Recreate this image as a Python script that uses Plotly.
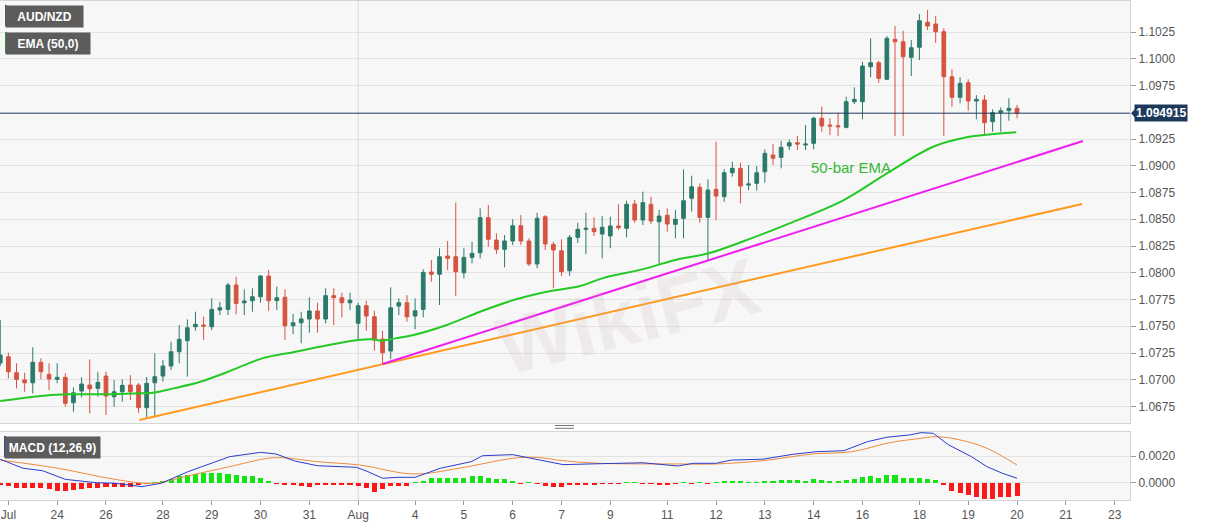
import plotly.graph_objects as go

# ---------------- data ----------------
bar_index = list(range(126))
open_ = [1.07157, 1.07215, 1.07066, 1.06998, 1.06972, 1.07163, 1.07051, 1.07004, 1.07023, 1.06786,
         1.06895, 1.06951, 1.06920, 1.07035, 1.06842, 1.06888, 1.06951, 1.06951, 1.06739, 1.06972,
         1.07035, 1.07129, 1.07262, 1.07365, 1.07496, 1.07512, 1.07496, 1.07652, 1.07658, 1.07886,
         1.07720, 1.07739, 1.07776, 1.07970, 1.07739, 1.07771, 1.07505, 1.07533, 1.07568, 1.07643,
         1.07568, 1.07786, 1.07767, 1.07720, 1.07528, 1.07692, 1.07589, 1.07381, 1.07269, 1.07689,
         1.07720, 1.07596, 1.07658, 1.08007, 1.07986, 1.08157, 1.08150, 1.08000, 1.08144, 1.08187,
         1.08515, 1.08306, 1.08219, 1.08297, 1.08440, 1.08297, 1.08082, 1.08524, 1.08266, 1.08206,
         1.08019, 1.08331, 1.08406, 1.08416, 1.08362, 1.08344, 1.08437, 1.08416, 1.08643, 1.08493,
         1.08640, 1.08477, 1.08537, 1.08453, 1.08509, 1.08696, 1.08799, 1.08518, 1.08780, 1.08711,
         1.08935, 1.08976, 1.08820, 1.08836, 1.08944, 1.09101, 1.09079, 1.09185, 1.09215, 1.09194,
         1.09210, 1.09444, 1.09381, 1.09374, 1.09359, 1.09599, 1.09599, 1.09926, 1.09963, 1.09808,
         1.10182, 1.10159, 1.10014, 1.10107, 1.10341, 1.10325, 1.10253, 1.09832, 1.09640, 1.09776,
         1.09605, 1.09615, 1.09412, 1.09496, 1.09515, 1.09537]
high = [1.07558, 1.07253, 1.07154, 1.07066, 1.07303, 1.07200, 1.07154, 1.07154, 1.07060, 1.06929,
        1.07023, 1.07191, 1.07075, 1.07075, 1.06998, 1.07004, 1.07044, 1.06970, 1.07026, 1.07247,
        1.07185, 1.07356, 1.07512, 1.07565, 1.07636, 1.07589, 1.07761, 1.07729, 1.07907, 1.07963,
        1.07845, 1.07855, 1.07979, 1.08026, 1.07870, 1.07845, 1.07615, 1.07636, 1.07771, 1.07720,
        1.07855, 1.07855, 1.07814, 1.07814, 1.07720, 1.07739, 1.07645, 1.07458, 1.07864, 1.07761,
        1.07792, 1.07761, 1.08032, 1.08119, 1.08229, 1.08297, 1.08655, 1.08229, 1.08290, 1.08602,
        1.08633, 1.08369, 1.08353, 1.08500, 1.08540, 1.08322, 1.08561, 1.08540, 1.08290, 1.08313,
        1.08353, 1.08468, 1.08561, 1.08518, 1.08530, 1.08524, 1.08640, 1.08673, 1.08680, 1.08758,
        1.08711, 1.08587, 1.08602, 1.08587, 1.08967, 1.08907, 1.08836, 1.08873, 1.09225, 1.08967,
        1.09038, 1.09029, 1.09007, 1.08998, 1.09154, 1.09203, 1.09234, 1.09247, 1.09278, 1.09381,
        1.09458, 1.09552, 1.09444, 1.09496, 1.09645, 1.09733, 1.09973, 1.10191, 1.09982, 1.10213,
        1.10306, 1.10262, 1.10175, 1.10418, 1.10456, 1.10400, 1.10285, 1.09902, 1.09827, 1.09808,
        1.09661, 1.09661, 1.09528, 1.09546, 1.09630, 1.09568]
low = [1.07129, 1.07014, 1.06920, 1.06888, 1.06873, 1.07004, 1.06904, 1.06967, 1.06748, 1.06701,
       1.06836, 1.06686, 1.06842, 1.06671, 1.06748, 1.06795, 1.06811, 1.06692, 1.06650, 1.06655,
       1.06982, 1.07091, 1.07154, 1.07029, 1.07458, 1.07372, 1.07465, 1.07605, 1.07605, 1.07612,
       1.07605, 1.07636, 1.07720, 1.07645, 1.07652, 1.07372, 1.07428, 1.07341, 1.07440, 1.07440,
       1.07528, 1.07512, 1.07584, 1.07652, 1.07372, 1.07458, 1.07272, 1.07147, 1.07191, 1.07605,
       1.07543, 1.07472, 1.07584, 1.07916, 1.07699, 1.08026, 1.07783, 1.07948, 1.08088, 1.08135,
       1.08243, 1.08175, 1.08051, 1.08259, 1.08259, 1.08063, 1.08042, 1.08213, 1.07855, 1.07970,
       1.07970, 1.08278, 1.08175, 1.08344, 1.08135, 1.08229, 1.08400, 1.08331, 1.08468, 1.08446,
       1.08456, 1.08082, 1.08384, 1.08322, 1.08322, 1.08571, 1.08468, 1.08119, 1.08493, 1.08664,
       1.08898, 1.08649, 1.08773, 1.08767, 1.08842, 1.09007, 1.08976, 1.09147, 1.09147, 1.09147,
       1.09154, 1.09318, 1.09287, 1.09278, 1.09350, 1.09577, 1.09434, 1.09827, 1.09776, 1.09801,
       1.09278, 1.09278, 1.09839, 1.09988, 1.10269, 1.10150, 1.09278, 1.09552, 1.09584, 1.09515,
       1.09434, 1.09287, 1.09318, 1.09318, 1.09421, 1.09444]
close = [1.07231, 1.07075, 1.07004, 1.06972, 1.07163, 1.07075, 1.07007, 1.07023, 1.06780, 1.06879,
         1.06960, 1.06916, 1.06976, 1.06848, 1.06888, 1.06948, 1.06888, 1.06739, 1.06967, 1.07029,
         1.07129, 1.07262, 1.07378, 1.07486, 1.07518, 1.07502, 1.07658, 1.07673, 1.07886, 1.07714,
         1.07736, 1.07776, 1.07970, 1.07739, 1.07767, 1.07505, 1.07533, 1.07568, 1.07643, 1.07568,
         1.07786, 1.07767, 1.07720, 1.07743, 1.07692, 1.07596, 1.07372, 1.07253, 1.07673, 1.07720,
         1.07589, 1.07645, 1.08004, 1.07986, 1.08150, 1.08135, 1.08010, 1.08144, 1.08182, 1.08515,
         1.08313, 1.08219, 1.08297, 1.08440, 1.08297, 1.08082, 1.08509, 1.08269, 1.08213, 1.08010,
         1.08331, 1.08406, 1.08416, 1.08384, 1.08425, 1.08437, 1.08421, 1.08640, 1.08493, 1.08655,
         1.08484, 1.08530, 1.08456, 1.08500, 1.08673, 1.08804, 1.08518, 1.08773, 1.08717, 1.08935,
         1.08976, 1.08811, 1.08830, 1.08935, 1.09116, 1.09070, 1.09173, 1.09215, 1.09203, 1.09203,
         1.09444, 1.09372, 1.09372, 1.09365, 1.09599, 1.09621, 1.09932, 1.09963, 1.09817, 1.10191,
         1.10159, 1.10019, 1.10103, 1.10356, 1.10306, 1.10253, 1.09832, 1.09640, 1.09771, 1.09605,
         1.09621, 1.09402, 1.09496, 1.09515, 1.09537, 1.094915]

ema_x = [0, 4.1, 8.2, 12.3, 16.4, 18.8, 21.3, 24.6, 28.0, 32.2, 36.3, 40.4, 44.0, 45.7, 46.9,
         48.6, 50.8, 54.9, 59.0, 63.1, 67.2, 71.3, 74.0, 78.9, 83.0, 87.1, 91.2, 96.5, 103.7,
         109.0, 114.7, 118.8, 120.9, 124.9]
ema_y = [1.06801, 1.06842, 1.06864, 1.06864, 1.06873, 1.06879, 1.06920, 1.06982, 1.07075, 1.07200,
         1.07262, 1.07325, 1.07372, 1.07378, 1.07365, 1.07387, 1.07418, 1.07512, 1.07636, 1.07745,
         1.07823, 1.07876, 1.07948, 1.08032, 1.08119, 1.08182, 1.08290, 1.08446, 1.08680, 1.08929,
         1.09178, 1.09266, 1.09287, 1.09313]

orange_x = [17.1, 133.0]
orange_y = [1.06625, 1.08643]
magenta_x = [47.0, 133.1]
magenta_y = [1.07147, 1.09231]

macd_hist = [-0.000148, -0.000222, -0.000395, -0.000395, -0.000395, -0.000395, -0.000469, -0.000593,
             -0.000568, -0.000519, -0.000469, -0.000395, -0.000395, -0.000321, -0.000272, -0.000272,
             -0.000272, -0.000148, -0.000074, 0.000060, 0.000148, 0.000272, 0.000519, 0.000593,
             0.000667, 0.000716, 0.000716, 0.000766, 0.000667, 0.000593, 0.000519, 0.000519,
             0.000346, 0.000148, -0.000060, -0.000148, -0.000148, -0.000222, -0.000272, -0.000148,
             -0.000148, -0.000148, -0.000148, -0.000148, -0.000222, -0.000395, -0.000642, -0.000469,
             -0.000222, -0.000222, -0.000222, 0.000060, 0.000148, 0.000346, 0.000395, 0.000346,
             0.000346, 0.000346, 0.000519, 0.000519, 0.000346, 0.000272, 0.000272, 0.000173,
             -0.000060, 0.000060, -0.000060, -0.000198, -0.000321, -0.000272, -0.000148, -0.000148,
             -0.000148, -0.000124, -0.000099, -0.000074, -0.000060, 0.000060, 0.000060, -0.000060,
             -0.000060, -0.000148, -0.000173, -0.000074, 0.000060, -0.000060, 0.000060, -0.000060,
             0.000060, 0.000173, 0.000173, 0.000124, 0.000099, 0.000099, 0.000173, 0.000173,
             0.000222, 0.000222, 0.000222, 0.000173, 0.000272, 0.000222, 0.000173, 0.000173,
             0.000222, 0.000272, 0.000469, 0.000519, 0.000395, 0.000568, 0.000568, 0.000395,
             0.000346, 0.000346, 0.000321, 0.000222, -0.000148, -0.000568, -0.000716, -0.000889,
             -0.001013, -0.001186, -0.001186, -0.001062, -0.001013, -0.000963]

macd_x = [0, 2.8, 5.2, 8.0, 11.8, 14.1, 17.4, 19.8, 23.1, 25.9, 28.2, 32.0, 33.9, 36.2, 39.0, 43.8,
          45.2, 47.0, 48.9, 51.0, 54.1, 57.9, 59.3, 63.0, 65.4, 69.2, 73.8, 76.6, 79.0, 83.3, 85.2,
          88.0, 89.9, 93.7, 97.5, 100.4, 103.7, 106.6, 109.0, 111.8, 113.2, 114.7, 116.6, 119.4,
          121.3, 123.2, 125.0]
macd_y = [0.00176, 0.00109, 0.00091, 0.00027, 0.00002, -0.00002, -0.00027, -0.00002, 0.00084,
          0.00146, 0.00195, 0.00227, 0.00215, 0.00163, 0.00128, 0.00116, 0.00084, 0.00035, 0.00042,
          0.00042, 0.00109, 0.00158, 0.00202, 0.00210, 0.00183, 0.00136, 0.00143, 0.00146, 0.00150,
          0.00126, 0.00146, 0.00146, 0.00170, 0.00176, 0.00213, 0.00232, 0.00239, 0.00306, 0.00339,
          0.00356, 0.00373, 0.00368, 0.00282, 0.00195, 0.00121, 0.00072, 0.00035]
signal_x = [0, 7.1, 14.1, 18.8, 23.5, 28.2, 32.9, 34.8, 39.0, 44.2, 50.8, 56.4, 63.0, 65.9, 69.2,
            73.8, 83.3, 88.0, 93.7, 99.9, 104.7, 109.4, 112.8, 115.1, 118.0, 121.3, 125.0]
signal_y = [0.00170, 0.00109, 0.00027, -0.00002, 0.00059, 0.00121, 0.00183, 0.00187, 0.00158,
            0.00133, 0.00067, 0.00109, 0.00183, 0.00190, 0.00165, 0.00146, 0.00141, 0.00141,
            0.00165, 0.00215, 0.00232, 0.00299, 0.00328, 0.00343, 0.00319, 0.00257, 0.00133]

price_ticks = [1.0675, 1.0700, 1.0725, 1.0750, 1.0775, 1.0800, 1.0825, 1.0850, 1.0875, 1.0900,
               1.0925, 1.0975, 1.1000, 1.1025]
macd_ticks = [0.0, 0.0020]
date_tick_pos = [1, 7, 13, 20, 26, 32, 38, 44, 51, 57, 63, 69, 75, 82, 88, 94, 100, 106, 113,
                 119, 125, 131, 137]
date_tick_text = ["Jul", "24", "26", "28", "29", "30", "31", "Aug", "4", "5", "6", "7", "9", "11",
                  "12", "13", "14", "16", "18", "19", "20", "21", "23"]
month_break = 44
last_price = 1.094915

# ---------------- styling ----------------
W, H = 1207, 526
ML, MR, MT, MB = 0, 77, 1, 26
PW, PH = W - ML - MR, H - MT - MB
UP, DOWN = "#2b7a69", "#d5533f"
FONT = "Arial, Liberation Sans, sans-serif"


def px_x(px):
    return px / PW


def px_y(py):
    return (H - MB - py) / PH


main_bottom = px_y(422.7)
macd_top = px_y(431.7)

fig = go.Figure()
fig.add_trace(go.Candlestick(
    x=bar_index, open=open_, high=high, low=low, close=close,
    increasing=dict(line=dict(color=UP, width=1), fillcolor=UP),
    decreasing=dict(line=dict(color=DOWN, width=1), fillcolor=DOWN),
    whiskerwidth=0, hoverinfo="skip", showlegend=False, xaxis="x", yaxis="y"))
fig.add_trace(go.Scatter(x=orange_x, y=orange_y, mode="lines",
                         line=dict(color="#ff9a1f", width=2), hoverinfo="skip", showlegend=False))
fig.add_trace(go.Scatter(x=magenta_x, y=magenta_y, mode="lines",
                         line=dict(color="#f01cf0", width=2), hoverinfo="skip", showlegend=False))
fig.add_trace(go.Scatter(x=ema_x, y=ema_y, mode="lines", line_shape="spline",
                         line=dict(color="#25c925", width=2), hoverinfo="skip", showlegend=False))

fig.add_trace(go.Bar(x=bar_index, y=macd_hist, width=0.62,
                     marker=dict(color=["#12e612" if v >= 0 else "#ff1616" for v in macd_hist],
                                 line=dict(width=0)),
                     hoverinfo="skip", showlegend=False, xaxis="x2", yaxis="y2"))
fig.add_trace(go.Scatter(x=signal_x, y=signal_y, mode="lines", line_shape="spline",
                         line=dict(color="#f08a3c", width=1), hoverinfo="skip",
                         showlegend=False, xaxis="x2", yaxis="y2"))
fig.add_trace(go.Scatter(x=macd_x, y=macd_y, mode="lines",
                         line=dict(color="#2a3ccc", width=1), hoverinfo="skip",
                         showlegend=False, xaxis="x2", yaxis="y2"))

xr = [-0.03, PW / 8.136]
border = "#d4d4d4"
grid = "#e3e3e3"
tickfont = dict(family=FONT, size=12, color="#555")

fig.update_layout(
    width=W, height=H, margin=dict(l=ML, r=MR, t=MT, b=MB),
    paper_bgcolor="white", plot_bgcolor="#f7f7f7",
    boxgap=0.35, bargap=0, showlegend=False,
    font=dict(family=FONT),
    xaxis=dict(domain=[0, 1], range=xr, anchor="y", showticklabels=False, showgrid=False,
               zeroline=False, showline=True, mirror=True, linecolor=border,
               rangeslider=dict(visible=False), fixedrange=True),
    yaxis=dict(domain=[main_bottom, 1], range=[1.06599, 1.10540], side="right", anchor="x",
               tickvals=price_ticks, tickformat=".4f", ticks="outside", ticklen=5,
               tickcolor="#9a9a9a", gridcolor=grid, showline=True, mirror=True,
               linecolor=border, zeroline=False, tickfont=tickfont, fixedrange=True),
    xaxis2=dict(domain=[0, 1], range=xr, anchor="y2", tickvals=date_tick_pos,
                ticktext=date_tick_text, ticks="outside", ticklen=4, tickcolor="#9a9a9a",
                showgrid=False, zeroline=False, showline=True, mirror=True, linecolor=border,
                tickfont=tickfont, fixedrange=True),
    yaxis2=dict(domain=[0, macd_top], range=[-0.00126, 0.0038], side="right", anchor="x2",
                tickvals=macd_ticks, tickformat=".4f", ticks="outside", ticklen=5,
                tickcolor="#9a9a9a", gridcolor=grid, showline=True, mirror=True,
                linecolor=border, zeroline=False, tickfont=tickfont, fixedrange=True),
)

shapes = []
# month separators
shapes.append(dict(type="line", xref="x", yref="y domain", x0=month_break, x1=month_break,
                   y0=0, y1=1, line=dict(color="#d9d9d9", width=1), layer="below"))
shapes.append(dict(type="line", xref="x2", yref="y2 domain", x0=month_break, x1=month_break,
                   y0=0, y1=1, line=dict(color="#d9d9d9", width=1), layer="below"))
# current price line
shapes.append(dict(type="line", xref="paper", yref="y", x0=0, x1=1, y0=last_price,
                   y1=last_price, line=dict(color="#1d3a5c", width=1)))
# price label arrow
shapes.append(dict(type="path", xref="paper", yref="y",
                   path=f"M {1 + px_x(1)} {last_price} L {1 + px_x(5)} {last_price + 0.0004} "
                        f"L {1 + px_x(5)} {last_price - 0.0004} Z",
                   fillcolor="#1d3a5c", line=dict(width=0)))
# panel resize handle
for hy in (425.5, 428.3):
    shapes.append(dict(type="line", xref="paper", yref="paper", x0=px_x(555), x1=px_x(574),
                       y0=px_y(hy), y1=px_y(hy), line=dict(color="#777", width=1)))

annotations = []

# faint watermark in the middle of the price panel
annotations.append(dict(text="<b>WikiFX</b>", xref="paper", yref="paper",
                        x=px_x(628), y=px_y(316), xanchor="center", yanchor="middle",
                        showarrow=False, textangle=-14,
                        font=dict(family=FONT, size=80, color="rgba(190,170,170,0.16)")))


def tag(text, x0, y0, x1, y1, accent):
    annotations.append(dict(text=f"<b>{text}</b>", xref="paper", yref="paper",
                            x=px_x(x0), y=px_y(y0), xanchor="left", yanchor="top",
                            showarrow=False, bgcolor="#5c5c5c", borderpad=0,
                            width=x1 - x0, height=y1 - y0, align="center", valign="middle",
                            font=dict(family=FONT, size=12, color="white")))
    shapes.append(dict(type="rect", xref="paper", yref="paper", x0=px_x(x0), x1=px_x(x0 + 2),
                       y0=px_y(y1), y1=px_y(y0), fillcolor=accent, line=dict(width=0)))


tag("AUD/NZD", 5, 5, 82, 26, "#2f6f6d")
tag("EMA (50,0)", 5, 32, 89, 53, "#22b422")
tag("MACD (12,26,9)", 4, 436, 99, 457, "#2436b4")

annotations.append(dict(text="<b>1.094915</b>", xref="paper", yref="y", x=1 + px_x(4),
                        y=last_price, xanchor="left", yanchor="middle", showarrow=False,
                        bgcolor="#1d3a5c", borderpad=1,
                        font=dict(family=FONT, size=12, color="white")))
annotations.append(dict(text="50-bar EMA", xref="x", yref="y", x=104.6, y=1.08988,
                        showarrow=False, font=dict(family=FONT, size=15, color="#36b836")))

fig.update_layout(shapes=shapes, annotations=annotations)
fig.write_html("out.html",
               config={"displayModeBar": False, "staticPlot": True},
               post_script="document.body.style.margin='0px';"
                           "document.body.style.overflow='hidden';")
